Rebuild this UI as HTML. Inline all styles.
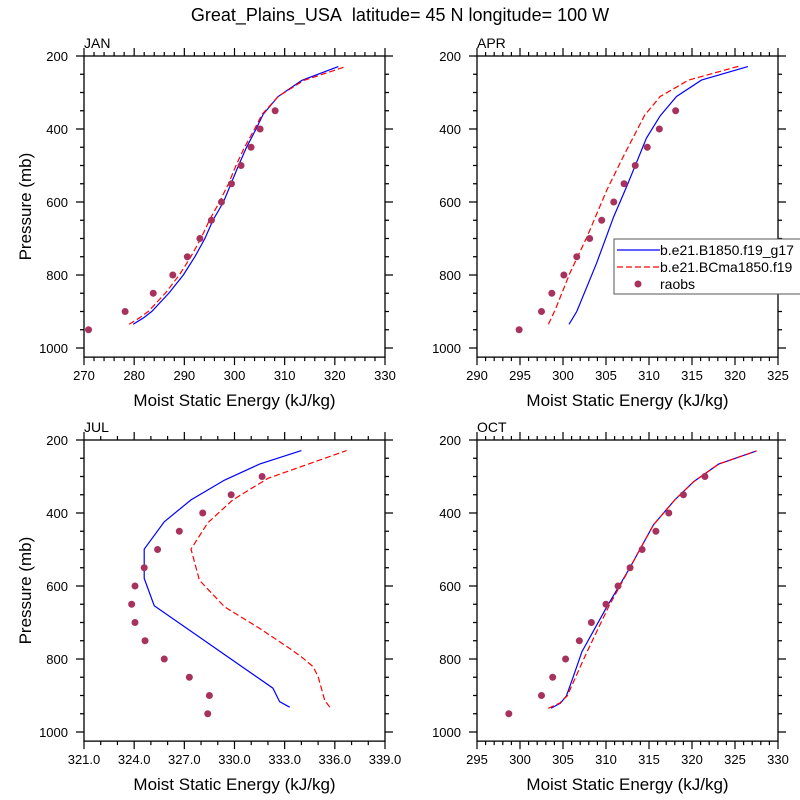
<!DOCTYPE html>
<html><head><meta charset="utf-8"><style>
body{margin:0;background:#fff}
svg{display:block;font-family:"Liberation Sans",sans-serif}
</style></head><body>
<svg id="c" width="800" height="800">
<text x="400" y="21" text-anchor="middle" font-size="18">Great_Plains_USA&#160; latitude= 45 N longitude= 100 W</text>
</svg>
<script>
const levels=[200,400,600,800,1000];
const raobsP=[950,900,850,800,750,700,650,600,550,500,450,400,350,300];
// JAN
const janBlueP=[935,918,900,850,800,750,700,650,600,550,500,450,400,360,311,267,229];
const janBlue=[279.8,281.8,283.5,286.9,289.8,292.1,294.1,295.7,297.8,299.3,300.8,302.4,304.3,305.7,308.7,313.4,320.7];
const janRedP=[935,918,900,850,800,750,700,650,600,550,500,450,400,360,311,267,229];
const janRed=[279.0,281.0,282.8,286.2,289.0,291.3,293.3,295.0,297.0,298.8,300.3,302.0,304.0,305.5,308.7,313.8,322.2];
const janObs=[270.9,278.2,283.8,287.7,290.6,293.1,295.4,297.4,299.4,301.3,303.3,305.1,308.1,null];
// APR
const aprBlueP=[935,900,768,640,558,425,364,311,266,229];
const aprBlue=[300.7,301.6,303.9,305.9,307.4,309.7,311.3,313.2,316.1,321.5];
const aprRedP=[935,895,795,695,567,476,362,311,266,227];
const aprRed=[298.3,299.1,300.8,302.8,305.1,307.0,309.5,311.3,314.6,320.6];
const aprObs=[294.9,297.5,298.7,300.1,301.6,303.1,304.5,305.9,307.1,308.4,309.8,311.2,313.1,null];
// JUL
const julBlueP=[932,917,880,654,579,499,424,364,310,266,229];
const julBlue=[333.3,332.7,332.3,325.2,324.6,324.6,325.8,327.4,329.4,331.5,334.0];
const julRedP=[932,914,848,821,794,768,716,657,584,499,427,364,305,271,229];
const julRed=[335.7,335.4,335.0,334.7,334.0,333.2,331.5,329.4,327.9,327.4,328.4,329.9,332.0,334.1,336.7];
const julObs=[328.4,328.5,327.3,325.8,324.65,324.05,323.85,324.05,324.6,325.4,326.7,328.1,329.8,331.65];
// OCT
const octBlueP=[935,921,901,848,780,657,549,433,364,314,266,230];
const octBlue=[303.6,304.7,305.4,306.2,307.2,310.1,312.8,315.5,318.0,320.2,323.1,327.5];
const octRedP=[935,921,901,848,780,657,549,433,364,314,266,230];
const octRed=[303.3,304.6,305.5,306.5,307.8,310.3,312.8,315.5,318.0,320.2,323.1,327.5];
const octObs=[298.7,302.5,303.8,305.3,306.9,308.3,310.0,311.4,312.8,314.2,315.8,317.3,319.0,321.5];

const NS="http://www.w3.org/2000/svg";
const svg=document.getElementById('c');
function mk(tag,attrs,parent){const e=document.createElementNS(NS,tag);for(const k in attrs)e.setAttribute(k,attrs[k]);(parent||svg).appendChild(e);return e;}

const panels=[
 {name:'JAN',L:84,R:385,T:56,xmin:270,xmax:330,major:10,minor:2,dec:0,bp:janBlueP,b:janBlue,rp:janRedP,r:janRed,o:janObs,ylab:true},
 {name:'APR',L:477,R:778,T:56,xmin:290,xmax:325,major:5,minor:1,dec:0,bp:aprBlueP,b:aprBlue,rp:aprRedP,r:aprRed,o:aprObs,ylab:false},
 {name:'JUL',L:84,R:385,T:440,xmin:321,xmax:339,major:3,minor:1,dec:1,bp:julBlueP,b:julBlue,rp:julRedP,r:julRed,o:julObs,ylab:true},
 {name:'OCT',L:477,R:778,T:440,xmin:295,xmax:330,major:5,minor:1,dec:0,bp:octBlueP,b:octBlue,rp:octRedP,r:octRed,o:octObs,ylab:false}
];
panels.forEach(p=>{
 const g=mk('g',{});
 
 
 const ys=0.365, B=p.T+(1025-200)*ys;
 const X=v=>p.L+(v-p.xmin)/(p.xmax-p.xmin)*(p.R-p.L);
 const Y=v=>p.T+(v-200)*ys;
 let d='';
 for(let v=p.xmin;v<=p.xmax+1e-6;v+=p.minor){
  const isMaj=Math.abs(((v-p.xmin)/p.major)-Math.round((v-p.xmin)/p.major))<1e-6;
  const len=isMaj?8:4,x=X(v);
  d+=`M${x},${B}v${len}M${x},${p.T}v${-len}`;
 }
 for(let v=200;v<=1000;v+=50){
  const len=(v%200===0)?8:4,y=Y(v);
  d+=`M${p.L},${y}h${-len}M${p.R},${y}h${len}`;
 }
 const tk=mk('path',{d:d,stroke:'#000','stroke-width':1.2,fill:'none'},g);
 
 
 const fr=mk('rect',{x:p.L,y:p.T,width:p.R-p.L,height:B-p.T,fill:'none',stroke:'#000','stroke-width':1.3},g);
 
 
 for(let v=p.xmin;v<=p.xmax+1e-6;v+=p.major){
  const t=mk('text',{x:X(v),y:B+23,'text-anchor':'middle','font-size':13},g);
  t.textContent=v.toFixed(p.dec);
  
  
 }
 levels.forEach(v=>{
  const t=mk('text',{x:p.L-16,y:Y(v)+5,'text-anchor':'end','font-size':13},g);
  t.textContent=v;
  
  
 });
 const pt=mk('text',{x:p.L,y:p.T-8,'font-size':14},g);
 pt.textContent=p.name;
 
 
 const xt=mk('text',{x:(p.L+p.R)/2,y:B+49,'text-anchor':'middle','font-size':17},g);
 xt.textContent='Moist Static Energy (kJ/kg)';
 
 
 if(p.ylab){
  const cy=(p.T+B)/2, yt=mk('text',{x:31,y:cy,'text-anchor':'middle','font-size':17,transform:`rotate(-90 31 ${cy})`},g);
  yt.textContent='Pressure (mb)';
  
  
 }
 const bl=mk('polyline',{points:p.b.map((v,i)=>X(v)+','+Y(p.bp[i])).join(' '),fill:'none',stroke:'#0000ff','stroke-width':1.2},g);
 
 
 const rl=mk('polyline',{points:p.r.map((v,i)=>X(v)+','+Y(p.rp[i])).join(' '),fill:'none',stroke:'#ff0000','stroke-width':1.2,'stroke-dasharray':'6 3'},g);
 
 
 p.o.forEach((v,i)=>{
  if(v===null)return;
  const c=mk('circle',{cx:X(v),cy:Y(raobsP[i]),r:3.5,fill:'#a8325e'},g);
  
  
 });
});
const lg=mk('g',{});


mk('rect',{x:614,y:239,width:200,height:55,fill:'#fff',stroke:'#555','stroke-width':1},lg);
const l1=mk('line',{x1:617,y1:250,x2:660,y2:250,stroke:'#0000ff','stroke-width':1.2},lg);


const l2=mk('line',{x1:617,y1:267,x2:660,y2:267,stroke:'#ff0000','stroke-width':1.2,'stroke-dasharray':'6 3'},lg);


const l3=mk('circle',{cx:638,cy:284,r:3.5,fill:'#a8325e'},lg);


[['b.e21.B1850.f19_g17',255],['b.e21.BCma1850.f19',272],['raobs',289]].forEach(([t,y])=>{
 const e=mk('text',{x:660,y:y,'font-size':14},lg);e.textContent=t;
 
 
});
</script>
</body></html>
